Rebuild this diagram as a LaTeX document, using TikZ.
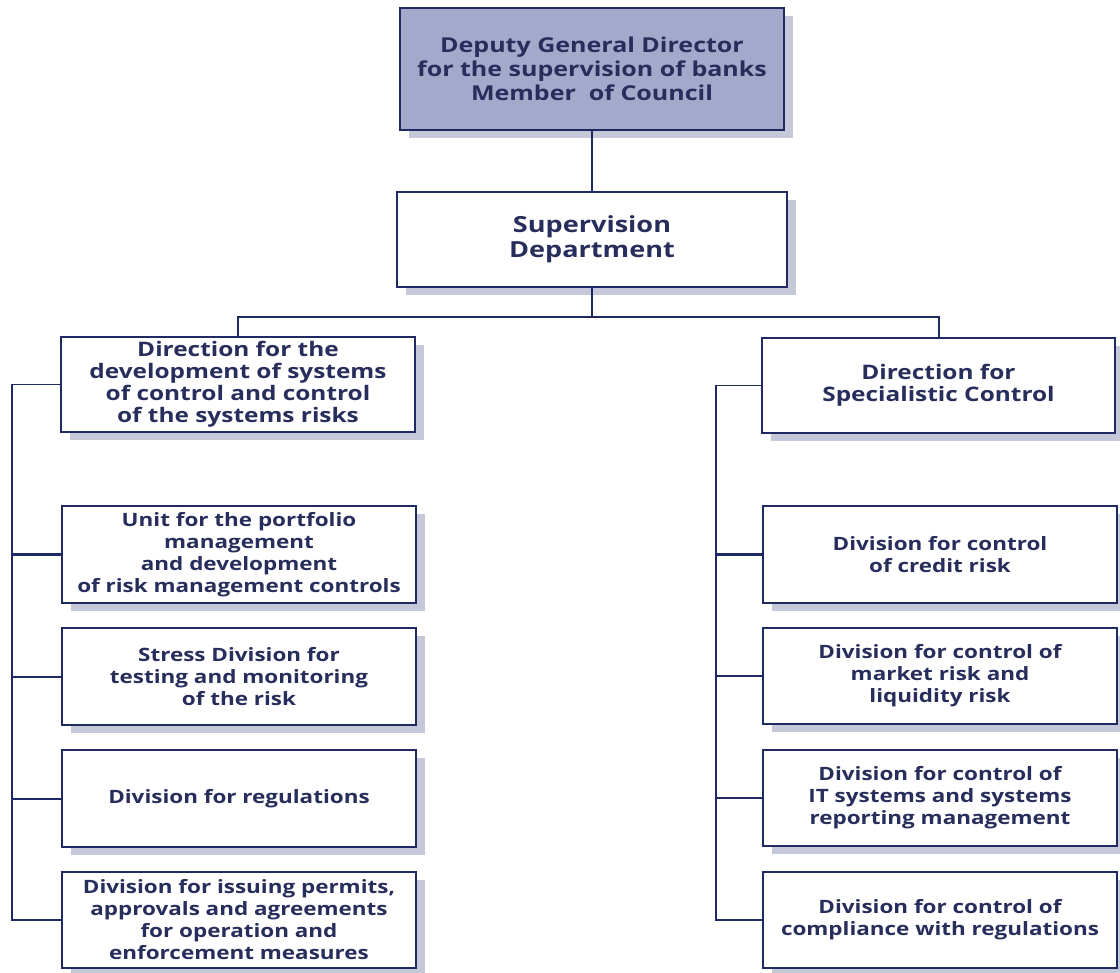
\documentclass[tikz,border=0pt]{standalone}
\usepackage{fontspec}
\setmainfont{Open Sans}[FakeStretch=1.22]
\usetikzlibrary{shadows}
\definecolor{navy}{RGB}{32,42,98}
\definecolor{txt}{RGB}{40,46,92}
\definecolor{topfill}{RGB}{164,168,203}
\definecolor{shadowc}{RGB}{196,200,216}
\tikzset{
  box/.style={draw=navy, line width=2.6pt, fill=white, align=center, text=txt,
    font=\bfseries\fontsize{18.4}{22}\selectfont, inner sep=2pt,
    drop shadow={shadow xshift=9pt, shadow yshift=-8pt, fill=shadowc, opacity=1}},
  topbox/.style={box, fill=topfill, font=\bfseries\fontsize{20.5}{24}\selectfont},
  dirbox/.style={box, font=\bfseries\fontsize{20}{22}\selectfont},
  supbox/.style={box, font=\bfseries\fontsize{22.2}{25}\selectfont},
  conn/.style={draw=navy, line width=2pt},
  thinconn/.style={draw=navy, line width=1.4pt}
}
\begin{document}
\begin{tikzpicture}[x=1pt,y=-1pt]
\useasboundingbox (0,0) rectangle (1120,973);
\node[topbox, minimum width=384pt, minimum height=122pt] (top) at (592,69)
  {Deputy General Director\\for the supervision of banks\\Member\ \ of Council};
\node[supbox, minimum width=390pt, minimum height=95pt] (sup) at (592,239.5)
  {Supervision\\Department};
\node[dirbox, minimum width=354pt, minimum height=95pt] (ldir) at (238,384.5)
  {Direction for the\\development of systems\\of control and control\\of the systems risks};
\node[dirbox, minimum width=353pt, minimum height=95pt] (rdir) at (938.5,385.5)
  {Direction for\\Specialistic Control};
\node[box, minimum width=354pt, minimum height=97pt] (lunit) at (239,554.5)
  {Unit for the portfolio\\management\\and development\\of risk management controls};
\node[box, minimum width=354pt, minimum height=97pt] (lstress) at (239,676.5)
  {Stress Division for\\testing and monitoring\\of the risk};
\node[box, minimum width=354pt, minimum height=97pt] (lreg) at (239,798.5)
  {Division for regulations};
\node[box, minimum width=354pt, minimum height=96pt] (lperm) at (239,920)
  {Division for issuing permits,\\approvals and agreements\\for operation and\\enforcement measures};
\node[box, minimum width=354pt, minimum height=97pt] (rcred) at (940,554.5)
  {Division for control\\of credit risk};
\node[box, minimum width=354pt, minimum height=96pt] (rmark) at (940,676)
  {Division for control of\\market risk and\\liquidity risk};
\node[box, minimum width=354pt, minimum height=96pt] (rit) at (940,798)
  {Division for control of\\IT systems and systems\\reporting management};
\node[box, minimum width=354pt, minimum height=96pt] (rcomp) at (940,920)
  {Division for control of\\compliance with regulations};
\coordinate (lsp) at (12,0);
\coordinate (rsp) at (716,0);
\coordinate (bar) at (0,317);
\draw[conn] (top.south) -- (sup.north);
\draw[conn] (sup.south) -- (sup.south |- bar) -| (ldir.north);
\draw[conn] (sup.south |- bar) -| (rdir.north);
\draw[thinconn] (ldir.west) -- (ldir.west -| lsp);
\draw[conn] (ldir.west -| lsp) -- (lperm.west -| lsp) -- (lperm.west);
\draw[conn] (lunit.west) -- (lunit.west -| lsp);
\draw[conn] (lstress.west) -- (lstress.west -| lsp);
\draw[conn] (lreg.west) -- (lreg.west -| lsp);
\draw[thinconn] (rdir.west) -- (rdir.west -| rsp);
\draw[conn] (rdir.west -| rsp) -- (rcomp.west -| rsp) -- (rcomp.west);
\draw[conn] (rcred.west) -- (rcred.west -| rsp);
\draw[conn] (rmark.west) -- (rmark.west -| rsp);
\draw[conn] (rit.west) -- (rit.west -| rsp);
\end{tikzpicture}
\end{document}
